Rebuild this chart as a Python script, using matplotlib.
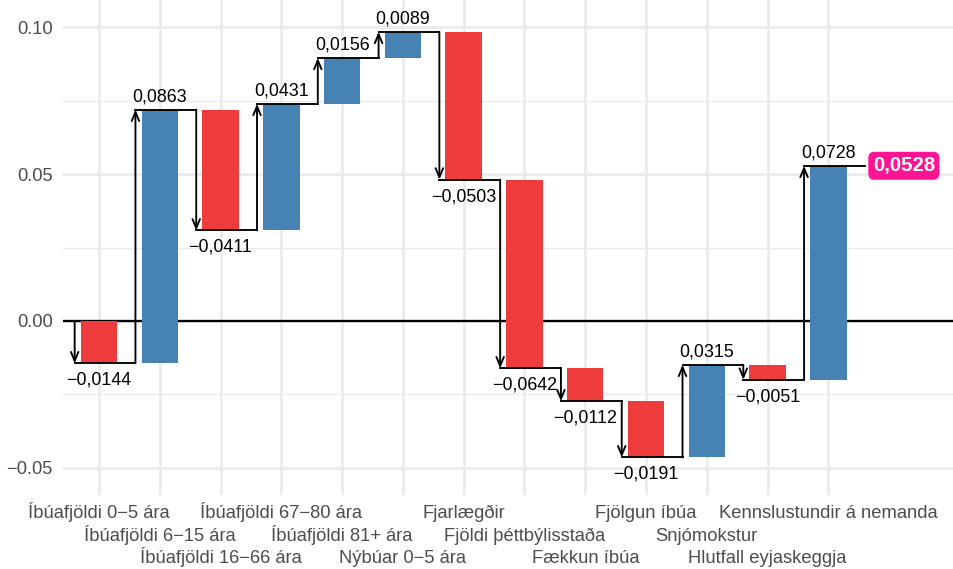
import matplotlib
matplotlib.use("Agg")
import matplotlib.pyplot as plt
import numpy as np

# ---------------- data ----------------
categories = [
    "Íbúafjöldi 0−5 ára", "Íbúafjöldi 6−15 ára", "Íbúafjöldi 16−66 ára",
    "Íbúafjöldi 67−80 ára", "Íbúafjöldi 81+ ára", "Nýbúar 0−5 ára",
    "Fjarlægðir", "Fjöldi þéttbýlisstaða", "Fækkun íbúa", "Fjölgun íbúa",
    "Snjómokstur", "Hlutfall eyjaskeggja", "Kennslustundir á nemanda",
]
values = [-0.0144, 0.0863, -0.0411, 0.0431, 0.0156, 0.0089, -0.0503,
          -0.0642, -0.0112, -0.0191, 0.0315, -0.0051, 0.0728]
y_ticks = [-0.05, 0.00, 0.05, 0.10]
y_tick_labels = ["−0.05", "0.00", "0.05", "0.10"]
y_minor = [-0.025, 0.025, 0.075]

def fmt(v):
    return f"{v:.4f}".replace(".", ",").replace("-", "−")

value_labels = [fmt(v) for v in values]

# ---------------- style ----------------
plt.rcParams["font.family"] = ["Liberation Sans", "DejaVu Sans"]
RED = "#EE3B3B"
BLUE = "#4682B4"
PINK = "#FF1493"
GRID = "#EBEBEB"
TXT = "#4D4D4D"

W, H, DPI = 953, 569, 150
fig = plt.figure(figsize=(W / DPI, H / DPI), dpi=DPI)
pl, pb = 62.5, 495
ax = fig.add_axes([pl / W, (H - pb) / H, (W - pl) / W, pb / H])

x = np.arange(1, len(values) + 1)
ends = np.cumsum(values)
starts = ends - np.array(values)
total = ends[-1]

ax.set_xlim(0.4, 15.05)
ax.set_ylim(-0.0592, 0.1092)

# grid
for yv in y_minor:
    ax.axhline(yv, color=GRID, lw=0.7, zorder=0)
for yv in y_ticks:
    ax.axhline(yv, color=GRID, lw=1.3, zorder=0)
for xv in x:
    ax.axvline(xv, color=GRID, lw=1.3, zorder=0)

# zero line
ax.axhline(0, color="black", lw=1.1, zorder=1)

# bars
colors = [RED if v < 0 else BLUE for v in values]
ax.bar(x, values, bottom=starts, width=0.6, color=colors, zorder=2)

# arrows and connecting segments
for xi, s, e, v, lbl in zip(x, starts, ends, values, value_labels):
    ax.annotate("", xy=(xi - 0.4, e), xytext=(xi - 0.4, s),
                arrowprops=dict(arrowstyle="->,head_length=0.43,head_width=0.18",
                                lw=0.9, color="black", shrinkA=0, shrinkB=0,
                                mutation_scale=10),
                zorder=3)
    ax.plot([xi - 0.4, xi + 0.6], [e, e], color="black", lw=0.9,
            solid_capstyle="projecting", zorder=3)
    if v >= 0:
        ax.annotate(lbl, (xi, e), xytext=(0, 3.8), textcoords="offset points",
                    ha="center", va="baseline", fontsize=8.6, color="black",
                    zorder=4)
    else:
        ax.annotate(lbl, (xi, e), xytext=(0, -10.3), textcoords="offset points",
                    ha="center", va="baseline", fontsize=8.6, color="black",
                    zorder=4)

# total label
ax.annotate(fmt(total), (x[-1] + 0.6, total), xytext=(3.8, 0),
            textcoords="offset points", ha="left", va="center",
            fontsize=9.8, fontweight="bold", color="white",
            bbox=dict(boxstyle="round,pad=0.22,rounding_size=0.3",
                      fc=PINK, ec="none"), zorder=5)

# axes
for sp in ax.spines.values():
    sp.set_visible(False)
ax.set_yticks(y_ticks)
ax.set_yticklabels(y_tick_labels)
ax.tick_params(axis="y", length=0, pad=4.8, labelsize=8.8, labelcolor=TXT)

ax.set_xticks(x)
ax.set_xticklabels(categories)
ax.tick_params(axis="x", length=0, labelsize=8.8, labelcolor=TXT)
pads = [11.0, 22.1, 32.6]
for i, (tick, lab) in enumerate(zip(ax.xaxis.get_major_ticks(), ax.get_xticklabels())):
    tick.set_pad(pads[i % 3])
    tick.label1.set_va("baseline")

fig.savefig("out.png", dpi=DPI)
